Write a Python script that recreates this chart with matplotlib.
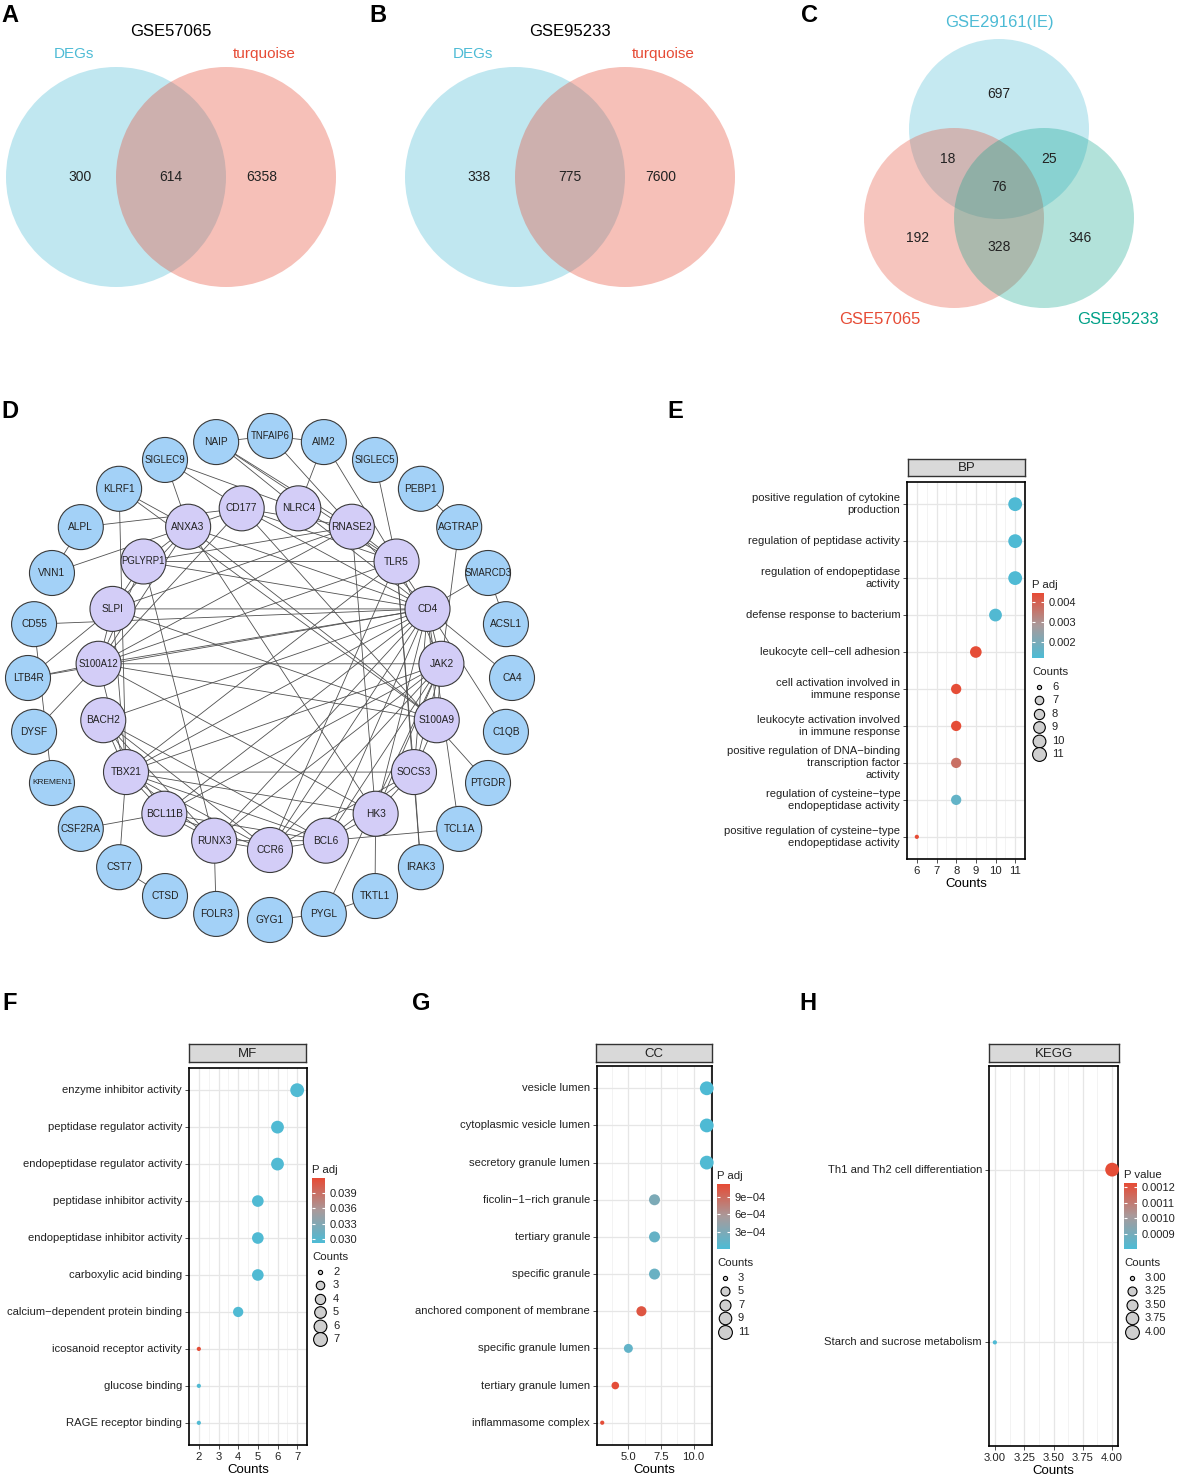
import numpy as np
import matplotlib
matplotlib.use("Agg")
import matplotlib.pyplot as plt
from matplotlib.patches import Circle
from matplotlib.colors import LinearSegmentedColormap, Normalize
from matplotlib.cm import ScalarMappable

plt.rcParams['font.family'] = ['Liberation Sans', 'DejaVu Sans']

# ---------------- data ----------------
venn_a_title = "GSE57065"
venn_a_sets = ["DEGs", "turquoise"]
venn_a_counts = [300, 614, 6358]

venn_b_title = "GSE95233"
venn_b_sets = ["DEGs", "turquoise"]
venn_b_counts = [338, 775, 7600]

venn_c_sets = ["GSE29161(IE)", "GSE57065", "GSE95233"]
# top only, top&left, top&right, all, left only, left&right, right only
venn_c_counts = [697, 18, 25, 76, 192, 328, 346]

outer_genes = ["TNFAIP6", "AIM2", "SIGLEC5", "PEBP1", "AGTRAP", "SMARCD3", "ACSL1",
               "CA4", "C1QB", "PTGDR", "TCL1A", "IRAK3", "TKTL1", "PYGL", "GYG1",
               "FOLR3", "CTSD", "CST7", "CSF2RA", "KREMEN1", "DYSF", "LTB4R", "CD55",
               "VNN1", "ALPL", "KLRF1", "SIGLEC9", "NAIP"]
inner_genes = ["CD177", "NLRC4", "RNASE2", "TLR5", "CD4", "JAK2", "S100A9", "SOCS3",
               "HK3", "BCL6", "CCR6", "RUNX3", "BCL11B", "TBX21", "BACH2", "S100A12",
               "SLPI", "PGLYRP1", "ANXA3"]
edges = [
    ("NAIP", "TNFAIP6"), ("TNFAIP6", "AIM2"), ("NAIP", "NLRC4"), ("NAIP", "RNASE2"),
    ("NAIP", "TLR5"), ("TNFAIP6", "RNASE2"), ("AIM2", "NLRC4"), ("AIM2", "TLR5"),
    ("SIGLEC5", "TLR5"), ("PEBP1", "AGTRAP"), ("AGTRAP", "JAK2"), ("SMARCD3", "CD4"),
    ("SMARCD3", "ACSL1"), ("CD4", "CA4"), ("CD4", "C1QB"), ("CD177", "PTGDR"),
    ("TCL1A", "CD4"), ("TCL1A", "BCL6"), ("IRAK3", "SOCS3"), ("IRAK3", "TLR5"),
    ("TKTL1", "HK3"), ("PYGL", "TKTL1"), ("GYG1", "PYGL"), ("PYGL", "JAK2"),
    ("FOLR3", "RUNX3"), ("CTSD", "CST7"), ("CST7", "TBX21"), ("CSF2RA", "BCL11B"),
    ("CD55", "KREMEN1"), ("DYSF", "S100A12"), ("LTB4R", "S100A12"), ("LTB4R", "SLPI"),
    ("LTB4R", "CD4"), ("CD55", "CD4"), ("VNN1", "ANXA3"), ("ALPL", "VNN1"),
    ("ALPL", "CD177"), ("KLRF1", "ANXA3"), ("KLRF1", "TBX21"), ("KLRF1", "S100A9"),
    ("SIGLEC9", "CD177"), ("SIGLEC9", "NLRC4"), ("SIGLEC9", "ANXA3"),
    ("CD4", "SLPI"), ("CD4", "S100A12"), ("CD4", "TBX21"), ("CD4", "BCL11B"),
    ("CD4", "RUNX3"), ("CD4", "CCR6"), ("CD4", "BCL6"), ("CD4", "SOCS3"), ("CD4", "JAK2"),
    ("CD4", "S100A9"), ("CD4", "TLR5"), ("CD4", "RNASE2"), ("CD4", "NLRC4"),
    ("CD4", "CD177"), ("CD4", "ANXA3"), ("CD4", "PGLYRP1"), ("CD4", "BACH2"), ("CD4", "HK3"),
    ("TBX21", "SOCS3"), ("TBX21", "JAK2"), ("TBX21", "BCL11B"), ("TBX21", "RUNX3"),
    ("TBX21", "CCR6"), ("TBX21", "BCL6"), ("TBX21", "BACH2"), ("TBX21", "S100A12"),
    ("TBX21", "TLR5"), ("TBX21", "HK3"), ("TBX21", "SLPI"),
    ("BACH2", "BCL6"), ("BACH2", "CCR6"), ("BACH2", "RUNX3"), ("BACH2", "BCL11B"),
    ("S100A12", "SLPI"), ("S100A12", "PGLYRP1"), ("S100A12", "ANXA3"), ("S100A12", "S100A9"),
    ("S100A12", "TLR5"), ("S100A12", "RNASE2"), ("S100A12", "JAK2"), ("S100A12", "HK3"),
    ("S100A12", "CD177"),
    ("SLPI", "PGLYRP1"), ("SLPI", "ANXA3"), ("SLPI", "RNASE2"), ("SLPI", "S100A9"),
    ("PGLYRP1", "ANXA3"), ("PGLYRP1", "RNASE2"), ("PGLYRP1", "TLR5"), ("PGLYRP1", "RUNX3"),
    ("ANXA3", "CD177"), ("ANXA3", "HK3"), ("ANXA3", "S100A9"),
    ("CD177", "RNASE2"), ("CD177", "TLR5"), ("NLRC4", "TLR5"),
    ("RNASE2", "TLR5"), ("RNASE2", "HK3"),
    ("TLR5", "SOCS3"), ("TLR5", "CCR6"), ("TLR5", "JAK2"),
    ("JAK2", "S100A9"), ("JAK2", "SOCS3"), ("JAK2", "BCL6"), ("JAK2", "CCR6"),
    ("JAK2", "RUNX3"), ("JAK2", "BCL11B"), ("JAK2", "HK3"),
    ("S100A9", "SOCS3"), ("SOCS3", "HK3"), ("SOCS3", "BCL6"), ("SOCS3", "CCR6"),
    ("BCL6", "CCR6"), ("BCL6", "RUNX3"), ("BCL6", "BCL11B"), ("BCL6", "HK3"),
    ("CCR6", "RUNX3"), ("CCR6", "BCL11B"), ("RUNX3", "BCL11B"),
]

bp_terms = ["positive regulation of cytokine\nproduction",
            "regulation of peptidase activity",
            "regulation of endopeptidase\nactivity",
            "defense response to bacterium",
            "leukocyte cell\u2212cell adhesion",
            "cell activation involved in\nimmune response",
            "leukocyte activation involved\nin immune response",
            "positive regulation of DNA\u2212binding\ntranscription factor\nactivity",
            "regulation of cysteine\u2212type\nendopeptidase activity",
            "positive regulation of cysteine\u2212type\nendopeptidase activity"]
bp_counts = [11, 11, 11, 10, 9, 8, 8, 8, 8, 6]
bp_padj = [0.00125, 0.00125, 0.00125, 0.0013, 0.0044, 0.0044, 0.0044, 0.0037, 0.0016, 0.0045]

mf_terms = ["enzyme inhibitor activity", "peptidase regulator activity",
            "endopeptidase regulator activity", "peptidase inhibitor activity",
            "endopeptidase inhibitor activity", "carboxylic acid binding",
            "calcium\u2212dependent protein binding", "icosanoid receptor activity",
            "glucose binding", "RAGE receptor binding"]
mf_counts = [7, 6, 6, 5, 5, 5, 4, 2, 2, 2]
mf_padj = [0.0294, 0.0294, 0.0294, 0.0294, 0.0294, 0.0294, 0.0294, 0.0417, 0.0294, 0.0294]

cc_terms = ["vesicle lumen", "cytoplasmic vesicle lumen", "secretory granule lumen",
            "ficolin\u22121\u2212rich granule", "tertiary granule", "specific granule",
            "anchored component of membrane", "specific granule lumen",
            "tertiary granule lumen", "inflammasome complex"]
cc_counts = [11, 11, 11, 7, 7, 7, 6, 5, 4, 3]
cc_padj = [0.00002, 0.00002, 0.00003, 0.00030, 0.00016, 0.00018, 0.00105, 0.00014, 0.00110, 0.00110]

kegg_terms = ["Th1 and Th2 cell differentiation", "Starch and sucrose metabolism"]
kegg_counts = [4, 3]
kegg_pval = [0.00122, 0.00081]

# ---------------- layout ----------------
W, H = 1181, 1484
PT = 72 / 100.0
fig = plt.figure(figsize=(W / 100, H / 100), dpi=100)


def px_rect(x0, y0, x1, y1):
    return [x0 / W, 1 - y1 / H, (x1 - x0) / W, (y1 - y0) / H]


ax0 = fig.add_axes([0, 0, 1, 1])
ax0.set_xlim(0, W)
ax0.set_ylim(H, 0)
ax0.axis("off")

BLUE, RED, GREEN = "#4DBBD5", "#E64B35", "#00A087"
cmap = LinearSegmentedColormap.from_list("padj", [BLUE, "#A89A9B", RED])

for lab, (x, y) in zip("ABCDEFGH", [(10, 16), (378, 16), (810, 16), (10, 411),
                                     (675, 411), (10, 1003), (421, 1003), (808, 1003)]):
    ax0.text(x, y, lab, fontsize=17, fontweight="bold", ha="center", va="center")


# two-set venns
def venn2(cx, cy, r, d, title, sets, counts):
    ax0.add_patch(Circle((cx - d / 2, cy), r, color=BLUE, alpha=0.35, lw=0))
    ax0.add_patch(Circle((cx + d / 2, cy), r, color=RED, alpha=0.35, lw=0))
    ax0.text(cx, 32, title, fontsize=12, ha="center", va="center")
    ax0.text(cx - 97, 54, sets[0], fontsize=11, color=BLUE, ha="center", va="center")
    ax0.text(cx + 93, 54, sets[1], fontsize=11, color=RED, ha="center", va="center")
    for dx, v in zip([-d / 2 - 36, 0, d / 2 + 36], counts):
        ax0.text(cx + dx, cy, str(v), fontsize=10, ha="center", va="center", color="#222")


venn2(171, 177, 110, 110, venn_a_title, venn_a_sets, venn_a_counts)
venn2(570, 177, 110, 110, venn_b_title, venn_b_sets, venn_b_counts)

# three-set venn
ccx, ccy, cr = 999, 188, 90
ax0.add_patch(Circle((ccx, ccy - 59), cr, color=BLUE, alpha=0.32, lw=0))
ax0.add_patch(Circle((ccx - 45, ccy + 30), cr, color=RED, alpha=0.32, lw=0))
ax0.add_patch(Circle((ccx + 45, ccy + 30), cr, color=GREEN, alpha=0.3, lw=0))
ax0.text(ccx, 22, venn_c_sets[0], fontsize=12, color=BLUE, ha="center", va="center")
ax0.text(880, 320, venn_c_sets[1], fontsize=12, color=RED, ha="center", va="center")
ax0.text(1118, 320, venn_c_sets[2], fontsize=12, color=GREEN, ha="center", va="center")
offs = [(0, -94), (-51, -29), (50, -29), (0, -1), (-81, 50), (0, 59), (81, 50)]
for (dx, dy), v in zip(offs, venn_c_counts):
    ax0.text(ccx + dx, ccy + dy, str(v), fontsize=10, ha="center", va="center", color="#222")

# network
ncx, ncy, nr = 270, 678, 22.5
pos = {}
for i, g in enumerate(outer_genes):
    a = np.deg2rad(i * 360 / len(outer_genes))
    pos[g] = (ncx + 242 * np.sin(a), ncy - 242 * np.cos(a))
for i, g in enumerate(inner_genes):
    a = np.deg2rad(-9.47 + i * 360 / len(inner_genes))
    pos[g] = (ncx + 172 * np.sin(a), ncy - 172 * np.cos(a))
for a, b in edges:
    ax0.plot([pos[a][0], pos[b][0]], [pos[a][1], pos[b][1]], color="#505050", lw=0.6, zorder=2)
for g in outer_genes + inner_genes:
    fc = "#A3D1F7" if g in outer_genes else "#D3CDF7"
    ax0.add_patch(Circle(pos[g], nr, facecolor=fc, edgecolor="#3a3a3a", lw=0.8, zorder=3))
    fs = 7.3 if len(g) <= 6 else 6.9
    if g == "KREMEN1":
        fs = 6.0
    ax0.text(pos[g][0], pos[g][1], g, fontsize=fs, ha="center", va="center", zorder=4, color="#222")


# dot plots
def diam(v, cmin, cmax):
    return 4.2 + np.sqrt((np.asarray(v, float) - cmin) / (cmax - cmin)) * (13.8 - 4.2)


def dot_panel(box, strip, title, terms, counts, vals, xlim, xticks, xlabels, xminor,
              vrange, cbox, cticks, clabels, ctitle, svals, slabels, lx, ly):
    n = len(terms)
    ax = fig.add_axes(px_rect(*box))
    y = np.arange(n, 0, -1)
    cmin, cmax = min(svals), max(svals)
    norm = Normalize(*vrange)
    ax.scatter(counts, y, s=(diam(counts, cmin, cmax) * PT) ** 2, c=vals, cmap=cmap,
               norm=norm, linewidths=0, zorder=3, clip_on=False)
    ax.set_xlim(xlim)
    ax.set_ylim(0.4, n + 0.6)
    ax.set_xticks(xticks)
    ax.set_xticklabels(xlabels)
    ax.set_xticks(xminor, minor=True)
    ax.set_yticks(y)
    ax.set_yticklabels(terms, va="center", ha="right")
    ax.tick_params(which="minor", length=0)
    ax.tick_params(which="major", length=2.75, width=0.6, color="#333",
                   labelsize=8.1, labelcolor="#222", pad=2.2)
    ax.grid(which="major", color="#e6e6e6", lw=0.9)
    ax.grid(which="minor", axis="x", color="#eeeeee", lw=0.5)
    ax.set_axisbelow(True)
    for s in ax.spines.values():
        s.set_color("black")
        s.set_linewidth(1.2)
    ax.set_xlabel("Counts", fontsize=9.5, labelpad=1.5)

    sax = fig.add_axes(px_rect(*strip))
    sax.set_facecolor("#d9d9d9")
    sax.set_xticks([])
    sax.set_yticks([])
    for s in sax.spines.values():
        s.set_color("#333")
        s.set_linewidth(1.0)
    sax.text(0.5, 0.45, title, ha="center", va="center", fontsize=9.5, color="#222",
             transform=sax.transAxes)

    cax = fig.add_axes(px_rect(*cbox))
    cb = fig.colorbar(ScalarMappable(norm, cmap), cax=cax)
    cb.outline.set_visible(False)
    cb.set_ticks(cticks)
    cb.set_ticklabels(clabels)
    cax.tick_params(direction="in", length=2.5, width=0.8, color="white", labelsize=8,
                    labelcolor="#222", left=True, right=True, pad=3)
    ax0.text(cbox[0], cbox[1] - 8, ctitle, fontsize=8.2, ha="left", va="center", color="#222")

    ax0.text(cbox[0], ly - 15, "Counts", fontsize=8.2, ha="left", va="center", color="#222")
    yy = ly
    for i, (v, t) in enumerate(zip(svals, slabels)):
        d = diam(v, cmin, cmax)
        if i > 0:
            yy += 13.4
        ax0.scatter([lx], [yy], s=(d * PT) ** 2, facecolor="#cfcfcf", edgecolor="black",
                    lw=0.8, zorder=3)
        ax0.text(lx + 13, yy, t, fontsize=8, ha="left", va="center", color="#222")


dot_panel((907, 482, 1025, 859), (908, 459, 1025, 476), "BP", bp_terms, bp_counts, bp_padj,
          (5.75, 11.25), [6, 7, 8, 9, 10, 11], ["6", "7", "8", "9", "10", "11"],
          np.arange(5.5, 11.6, 1.0), (0.0012, 0.00445), (1032, 593, 1044, 658),
          [0.002, 0.003, 0.004], ["0.002", "0.003", "0.004"], "P adj",
          [6, 7, 8, 9, 10, 11], ["6", "7", "8", "9", "10", "11"], 1039, 687)

dot_panel((189, 1068, 307, 1445), (189, 1044, 306, 1062), "MF", mf_terms, mf_counts, mf_padj,
          (1.75, 7.25), [2, 3, 4, 5, 6, 7], ["2", "3", "4", "5", "6", "7"],
          np.arange(1.5, 7.6, 1.0), (0.0292, 0.0419), (312, 1178, 325, 1243),
          [0.030, 0.033, 0.036, 0.039], ["0.030", "0.033", "0.036", "0.039"], "P adj",
          [2, 3, 4, 5, 6, 7], ["2", "3", "4", "5", "6", "7"], 320, 1272)

dot_panel((597, 1066, 712, 1445), (596, 1044, 712, 1062), "CC", cc_terms, cc_counts, cc_padj,
          (2.6, 11.4), [5, 7.5, 10], ["5.0", "7.5", "10.0"],
          [3.75, 6.25, 8.75, 11.25], (0.00001, 0.00112), (717, 1184, 730, 1249),
          [0.0003, 0.0006, 0.0009], ["3e\u221204", "6e\u221204", "9e\u221204"], "P adj",
          [3, 5, 7, 9, 11], ["3", "5", "7", "9", "11"], 725, 1278)

dot_panel((989, 1066, 1118, 1446), (989, 1044, 1119, 1062), "KEGG", kegg_terms, kegg_counts,
          kegg_pval, (2.95, 4.05), [3.0, 3.25, 3.5, 3.75, 4.0],
          ["3.00", "3.25", "3.50", "3.75", "4.00"], np.arange(3.125, 4.0, 0.25),
          (0.000804, 0.001226), (1124, 1183, 1137, 1249),
          [0.0009, 0.0010, 0.0011, 0.0012], ["0.0009", "0.0010", "0.0011", "0.0012"], "P value",
          [3.0, 3.25, 3.5, 3.75, 4.0], ["3.00", "3.25", "3.50", "3.75", "4.00"], 1132, 1278)

fig.savefig("out.png", dpi=100)
